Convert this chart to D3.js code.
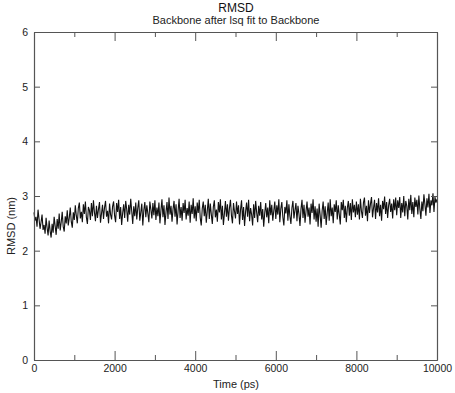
<!DOCTYPE html>
<html>
<head>
<meta charset="utf-8">
<script src="https://cdn.jsdelivr.net/npm/d3@7"></script>
<style>
html,body{margin:0;padding:0;background:#fff;}
svg{display:block;font-family:"Liberation Sans",Arial,sans-serif;}
</style>
</head>
<body>
<svg id="chart" width="455" height="393"></svg>
<script>
const titleText = "RMSD";
const subtitleText = "Backbone after lsq fit to Backbone";
const xLabel = "Time (ps)";
const yLabel = "RMSD (nm)";
const xTicksMajor = [0, 2000, 4000, 6000, 8000, 10000];
const xTicksMinor = [1000, 3000, 5000, 7000, 9000];
const yTicksMajor = [0, 1, 2, 3, 4, 5, 6];
const timeStep = 25; // ps between samples
const rmsd = [
2.70,2.55,2.62,2.44,2.75,2.58,2.40,2.52,2.66,2.38,2.47,2.31,2.60,2.42,2.28,2.55,2.36,2.24,2.49,2.33,
2.62,2.45,2.29,2.58,2.40,2.68,2.37,2.52,2.71,2.44,2.35,2.63,2.50,2.74,2.46,2.60,2.79,2.53,2.42,2.70,
2.56,2.83,2.64,2.50,2.78,2.88,2.59,2.71,2.52,2.85,2.67,2.90,2.61,2.49,2.80,2.74,2.56,2.87,2.63,2.92,
2.70,2.54,2.82,2.60,2.76,2.89,2.51,2.68,2.84,2.58,2.79,2.91,2.62,2.73,2.50,2.86,2.66,2.57,2.81,2.90,
2.64,2.52,2.87,2.71,2.93,2.58,2.80,2.47,2.69,2.85,2.60,2.91,2.76,2.53,2.84,2.66,2.95,2.72,2.49,2.81,
2.63,2.88,2.57,2.78,2.92,2.55,2.70,2.86,2.46,2.74,2.89,2.61,2.83,2.68,2.52,2.90,2.75,2.59,2.87,2.65,
2.92,2.56,2.79,2.63,2.88,2.50,2.74,2.94,2.61,2.83,2.47,2.70,2.89,2.58,2.97,2.66,2.82,2.53,2.76,2.91,
2.62,2.85,2.48,2.72,2.95,2.60,2.80,2.55,2.87,2.69,2.93,2.57,2.78,2.64,2.90,2.51,2.84,2.67,2.96,2.59,
2.81,2.54,2.88,2.69,2.93,2.60,2.46,2.77,2.90,2.63,2.84,2.51,2.73,2.95,2.58,2.86,2.66,2.49,2.80,2.92,
2.61,2.75,2.53,2.89,2.70,2.94,2.57,2.82,2.47,2.68,2.91,2.62,2.85,2.55,2.78,2.93,2.64,2.50,2.87,2.72,
2.59,2.90,2.67,2.83,2.48,2.75,2.92,2.56,2.80,2.45,2.71,2.88,2.62,2.93,2.54,2.78,2.66,2.46,2.85,2.60,
2.91,2.70,2.52,2.82,2.64,2.89,2.57,2.76,2.44,2.69,2.87,2.61,2.79,2.50,2.92,2.65,2.84,2.55,2.73,2.90,
2.58,2.83,2.66,2.94,2.52,2.77,2.89,2.61,2.46,2.80,2.68,2.92,2.55,2.85,2.63,2.49,2.78,2.91,2.59,2.74,
2.87,2.54,2.82,2.67,2.45,2.76,2.93,2.60,2.84,2.51,2.72,2.90,2.62,2.79,2.48,2.86,2.69,2.94,2.57,2.81,
2.53,2.77,2.44,2.86,2.65,2.42,2.73,2.90,2.58,2.81,2.47,2.69,2.88,2.55,2.94,2.63,2.79,2.50,2.85,2.71,
2.92,2.57,2.83,2.66,2.48,2.89,2.74,2.93,2.60,2.82,2.52,2.78,2.91,2.64,2.87,2.56,2.94,2.70,2.84,2.61,
2.90,2.66,2.85,2.57,2.95,2.72,2.60,2.88,2.97,2.64,2.82,2.54,2.92,2.69,2.86,2.98,2.61,2.78,2.93,2.58,
2.87,2.70,2.96,2.63,2.84,2.55,2.91,2.76,2.99,2.67,2.89,2.60,2.83,2.95,2.71,2.86,2.59,2.94,2.74,2.97,
2.65,2.92,2.78,2.98,2.60,2.87,2.70,3.00,2.63,2.91,2.82,2.57,2.95,2.74,3.02,2.67,2.89,2.61,2.97,2.80,
2.93,2.66,3.01,2.76,2.58,2.90,2.72,3.03,2.85,2.64,2.96,2.79,3.04,2.69,2.92,2.83,3.05,2.71,2.98,2.88,
2.94
];

const svg = d3.select("#chart");
const L = 34, R = 437, T = 32, B = 360;
const x = d3.scaleLinear().domain([0, 10000]).range([L, R]);
const y = d3.scaleLinear().domain([0, 6]).range([B, T]);
const axisColor = "#555";

// plot line
const data = rmsd.map((v, i) => [i * timeStep, v]);
svg.append("path")
  .datum(data)
  .attr("fill", "none")
  .attr("stroke", "#111")
  .attr("stroke-width", 1.1)
  .attr("d", d3.line().x(d => x(d[0])).y(d => y(d[1])));

// axes with inward ticks
const fmt = d3.format("d");
const bottomAxis = svg.append("g").attr("transform", `translate(0,${B})`)
  .call(d3.axisBottom(x).tickValues(xTicksMajor).tickSizeInner(-9).tickSizeOuter(0).tickPadding(5).tickFormat(fmt));
const bottomMinor = svg.append("g").attr("transform", `translate(0,${B})`)
  .call(d3.axisBottom(x).tickValues(xTicksMinor).tickSizeInner(-5).tickSizeOuter(0).tickFormat(""));
const topAxis = svg.append("g").attr("transform", `translate(0,${T})`)
  .call(d3.axisTop(x).tickValues(xTicksMajor).tickSizeInner(-9).tickSizeOuter(0).tickFormat(""));
const topMinor = svg.append("g").attr("transform", `translate(0,${T})`)
  .call(d3.axisTop(x).tickValues(xTicksMinor).tickSizeInner(-5).tickSizeOuter(0).tickFormat(""));
const leftAxis = svg.append("g").attr("transform", `translate(${L},0)`)
  .call(d3.axisLeft(y).tickValues(yTicksMajor).tickSizeInner(-6).tickSizeOuter(0).tickPadding(4).tickFormat(fmt));
const rightAxis = svg.append("g").attr("transform", `translate(${R},0)`)
  .call(d3.axisRight(y).tickValues(yTicksMajor).tickSizeInner(-6).tickSizeOuter(0).tickFormat(""));

[bottomAxis, bottomMinor, topAxis, topMinor, leftAxis, rightAxis].forEach(g => {
  g.select(".domain").attr("stroke", axisColor).attr("stroke-width", 1.2);
  g.selectAll(".tick line").attr("stroke", axisColor).attr("stroke-width", 1);
  g.selectAll(".tick text").attr("fill", "#222").style("font-size", "10.5px")
    .style("font-family", "'Liberation Sans', Arial, sans-serif");
});
leftAxis.selectAll(".tick text").attr("dx", "-2");

// titles
svg.append("text").attr("x", 236).attr("y", 12).attr("text-anchor", "middle")
  .style("font-size", "12px").attr("fill", "#111").text(titleText);
svg.append("text").attr("x", 236).attr("y", 24).attr("text-anchor", "middle")
  .style("font-size", "11px").attr("fill", "#222").text(subtitleText);
svg.append("text").attr("x", 236).attr("y", 388).attr("text-anchor", "middle")
  .style("font-size", "11px").attr("fill", "#222").text(xLabel);
svg.append("text").attr("transform", "translate(15,226) rotate(-90)").attr("text-anchor", "middle")
  .style("font-size", "11px").attr("fill", "#222").text(yLabel);
</script>
</body>
</html>
